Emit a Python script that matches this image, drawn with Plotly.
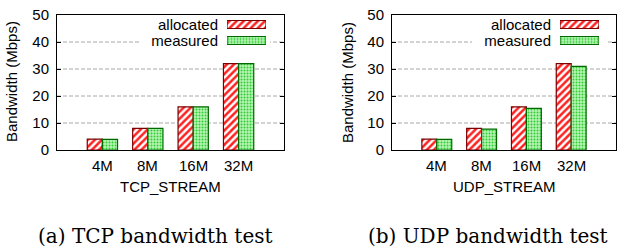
import plotly.graph_objects as go

# ---- data ----
categories = ["4M", "8M", "16M", "32M"]
tcp_allocated = [4, 8, 16, 32]
tcp_measured = [3.9, 8, 16, 32]
udp_allocated = [4, 8, 16, 32]
udp_measured = [3.9, 7.7, 15.4, 31]
series_names = ["allocated", "measured"]
y_ticks = [0, 10, 20, 30, 40, 50]
x_titles = ["TCP_STREAM", "UDP_STREAM"]
y_title = "Bandwidth (Mbps)"
captions = ["(a) TCP bandwidth test", "(b) UDP bandwidth test"]

W, H = 617, 248
def px(x):
    return x / W
def py(y):
    return 1 - y / H

SANS = "Liberation Sans, Arial, sans-serif"
FS = 15

red_marker = dict(color="white",
                  line=dict(color="#7a0000", width=1.2),
                  pattern=dict(shape="/", fgcolor="#ff2020", bgcolor="white",
                               size=5, solidity=0.5, fillmode="replace"))
green_marker = dict(color="#b8f5b8",
                    line=dict(color="#006a00", width=1.2),
                    pattern=dict(shape=".", fgcolor="#30cc30", bgcolor="#b8f5b8",
                                 size=3, solidity=0.35, fillmode="replace"))
markers = [red_marker, green_marker]

fig = go.Figure()

panels = [
    dict(vals=[tcp_allocated, tcp_measured], x0=57, x1=284, lx0=227, lx1=266,
         box=(0.366, 0.938), ytx=12),
    dict(vals=[udp_allocated, udp_measured], x0=392, x1=616, lx0=560, lx1=599,
         box=(0.357, 0.96), ytx=348),
]

layout = dict(
    template="none",
    width=W, height=H, margin=dict(l=0, r=0, t=0, b=0, autoexpand=False),
    paper_bgcolor="white", plot_bgcolor="white",
    showlegend=False, barmode="group", bargap=0.333, bargroupgap=0,
    font=dict(family=SANS, size=FS, color="black"),
)
annotations = []
shapes = []

for i, p in enumerate(panels):
    n = i + 1
    xa = "x" if n == 1 else f"x{n}"
    ya = "y" if n == 1 else f"y{n}"
    for s, name in enumerate(series_names):
        fig.add_trace(go.Bar(x=categories, y=p["vals"][s], name=name,
                             marker=markers[s], xaxis=xa, yaxis=ya))
    layout[f"xaxis{'' if n == 1 else n}"] = dict(
        domain=[px(p["x0"]), px(p["x1"])], anchor=ya, automargin=False,
        range=[-1, 4], showline=True, linecolor="black", linewidth=1,
        mirror=True, ticks="", showgrid=False, zeroline=False,
        showticklabels=False)
    layout[f"yaxis{'' if n == 1 else n}"] = dict(
        domain=[py(150), py(15)], anchor=xa, automargin=False,
        range=[0, 50], tickvals=y_ticks, showline=True, linecolor="black",
        linewidth=1, mirror="ticks", ticks="inside", ticklen=4,
        tickcolor="black", showgrid=False, zeroline=False,
        tickfont=dict(size=FS), ticklabelstandoff=4)
    # category labels under the axis
    for c in categories:
        annotations.append(dict(text=c, x=c, xref=xa, y=py(165), yref="paper",
                                showarrow=False, font=dict(size=FS),
                                xanchor="center", yanchor="middle"))
    # dashed grid lines at the inner tick values
    for v in y_ticks[1:-1]:
        shapes.append(dict(type="line", xref=f"{xa} domain", yref=ya,
                           x0=0, x1=1, y0=v, y1=v, layer="below",
                           line=dict(color="#a8a8a8", width=1, dash="4px,2px")))
    # legend background box (covers the grid lines)
    shapes.append(dict(type="rect", xref=f"{xa} domain", yref=f"{ya} domain",
                       x0=p["box"][0], x1=p["box"][1], y0=0.741, y1=0.995,
                       fillcolor="white", line=dict(width=0), layer="below"))
    # legend as a small subplot: labels left, swatches right
    ln = n + 2
    for s, name in enumerate(series_names):
        fig.add_trace(go.Bar(x=[1], y=[name], orientation="h", width=0.5,
                             marker=markers[s], xaxis=f"x{ln}", yaxis=f"y{ln}"))
    layout[f"xaxis{ln}"] = dict(domain=[px(p["lx0"]), px(p["lx1"])],
                                anchor=f"y{ln}", range=[0, 1], visible=False,
                                automargin=False)
    layout[f"yaxis{ln}"] = dict(domain=[py(48.5), py(16.5)], anchor=f"x{ln}",
                                automargin=False,
                                categoryorder="array",
                                categoryarray=series_names[::-1],
                                tickmode="array", tickvals=series_names,
                                ticktext=series_names,
                                range=[-0.5, 1.5],
                                showline=False, showgrid=False, zeroline=False,
                                ticks="", tickfont=dict(size=FS),
                                ticklabelstandoff=8)
    # axis titles
    annotations.append(dict(text=y_title, x=px(p["ytx"]), y=py(82),
                            xref="paper", yref="paper", textangle=-90,
                            showarrow=False, font=dict(size=FS),
                            xanchor="center", yanchor="middle"))
    annotations.append(dict(text=x_titles[i], x=px((p["x0"] + p["x1"]) / 2),
                            y=py(186), xref="paper", yref="paper",
                            showarrow=False, font=dict(size=FS),
                            xanchor="center", yanchor="middle"))

for cx, cap in zip([156, 488], captions):
    annotations.append(dict(text=cap, x=px(cx), y=py(236), xref="paper",
                            yref="paper", showarrow=False,
                            font=dict(family="DejaVu Serif, serif", size=20),
                            xanchor="center", yanchor="middle"))

layout["annotations"] = annotations
layout["shapes"] = shapes
fig.update_layout(**layout)
fig.write_html(
    "out.html",
    config={"displayModeBar": False, "staticPlot": True},
    post_script="document.body.style.margin='0';"
                "document.body.style.overflow='hidden';",
)
